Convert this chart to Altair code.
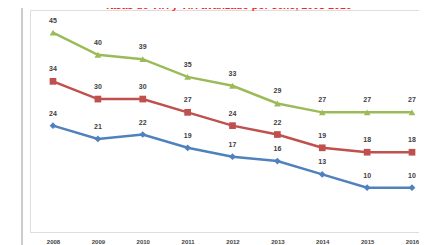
import altair as alt
import pandas as pd

years = [2008, 2009, 2010, 2011, 2012, 2013, 2014, 2015, 2016]
hombres = [45, 40, 39, 35, 33, 29, 27, 27, 27]
total = [34, 30, 30, 27, 24, 22, 19, 18, 18]
mujeres = [24, 21, 22, 19, 17, 16, 13, 10, 10]
series_names = ["Hombres", "Total", "Mujeres"]
series_colors = ["#9BBB59", "#C0504D", "#4F81BD"]
series_shapes = ["triangle-up", "square", "diamond"]
title_text = "Tasas de VIH y VIH avanzado por sexo, 2008-2016"

rows = []
for name, vals in zip(series_names, [hombres, total, mujeres]):
    for y, v in zip(years, vals):
        rows.append({"year": y, "value": v, "serie": name})
df = pd.DataFrame(rows)

W, H = 389, 222

x = alt.X("year:Q", scale=alt.Scale(domain=[2007.4875, 2016.156], nice=False, zero=False),
          axis=alt.Axis(values=years, format="d", title=None, grid=False, domain=False, ticks=False,
                        labelFontSize=6, labelColor="#444444", labelPadding=6, labelFont="Liberation Sans",
                        labelFontWeight="bold"))
y = alt.Y("value:Q", scale=alt.Scale(domain=[0, 50.1], nice=False), axis=None)
color = alt.Color("serie:N", scale=alt.Scale(domain=series_names, range=series_colors), legend=None)
shape = alt.Shape("serie:N", scale=alt.Scale(domain=series_names, range=series_shapes), legend=None)

base = alt.Chart(df)
lines = base.mark_line(strokeWidth=2.5).encode(x=x, y=y, color=color, detail="serie:N")
points = base.mark_point(filled=True, size=45, opacity=1).encode(x=x, y=y, color=color, shape=shape)
labels = base.mark_text(dy=-12, fontSize=7, fontWeight="bold", color="#404040",
                        font="Liberation Sans").encode(x=x, y=y, text="value:Q")

border = alt.Chart(pd.DataFrame({"a": [0]})).mark_rule(color="#cccccc", strokeWidth=2).encode(
    x=alt.value(-8), y=alt.value(-10), y2=alt.value(H + 20))
title = alt.Chart(pd.DataFrame({"t": [title_text]})).mark_text(
    fontSize=10.5, fontWeight="bold", color="#FF2020", font="Liberation Sans").encode(
    x=alt.value(198), y=alt.value(-4), text="t:N")

chart = alt.layer(border, lines, points, labels, title).properties(
    width=W, height=H,
    autosize=alt.AutoSizeParams(type="none"),
    padding={"left": 22, "top": 2, "right": 0, "bottom": 13},
).configure_view(stroke=None, clip=False).configure(background="white")

chart.save("out.html", embed_options={"renderer": "svg", "actions": False})
